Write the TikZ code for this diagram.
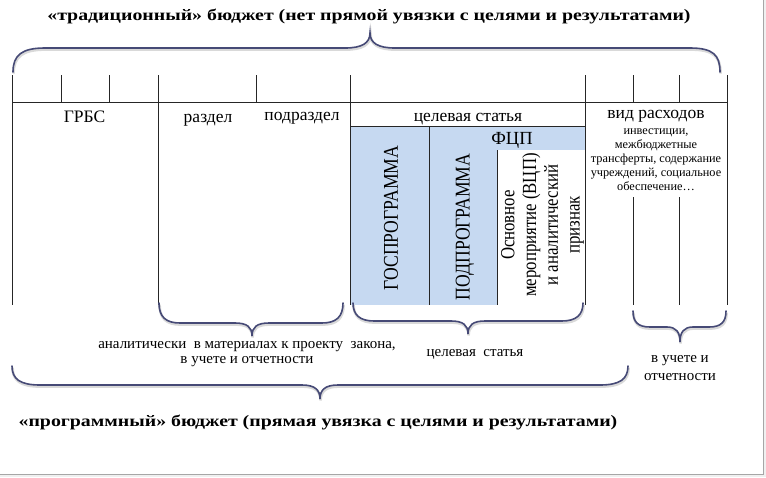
\documentclass[tikz,border=0pt]{standalone}
\usepackage{fontspec}
\setmainfont{Liberation Serif}
\newfontfamily\widefont[FakeStretch=1.24]{Liberation Serif}
\newfontfamily\narrowfont[FakeStretch=0.84]{Liberation Serif}
\usetikzlibrary{positioning}
\definecolor{braceblue}{RGB}{70,74,118}
\definecolor{cellblue}{RGB}{198,217,241}

\begin{document}
\begin{tikzpicture}[x=1pt, y=-1pt,
	brc/.style={draw=braceblue, line width=1.6pt, line cap=round,
	preaction={draw=gray!30, line width=2.6pt, transform canvas={xshift=0.6pt, yshift=-1.6pt}}},
	grid/.style={draw=black!85, line width=0.8pt},
	ttl/.style={font=\widefont\bfseries\fontsize{16}{18}\selectfont, inner sep=0pt, anchor=base},
	hdr/.style={font=\fontsize{17.5}{19}\selectfont, inner sep=0pt, anchor=base},
	sml/.style={font=\fontsize{12.3}{13.8}\selectfont, inner sep=0pt, align=center},
	lbl/.style={font=\fontsize{15}{15.5}\selectfont, inner sep=0pt, align=center},
	vrt/.style={font=\narrowfont\fontsize{21}{22}\selectfont, inner sep=0pt, rotate=90}
	]
	\useasboundingbox (0,0) rectangle (766,477);
	\fill[gray!12] (763,0) rectangle (766,477);
	\fill[gray!12] (0,474) rectangle (766,477);
	\draw[gray!70, line width=0.8pt] (763,0) -- (763,474) -- (0,474);

	% blue cells
	\fill[cellblue] (350,126) rectangle (585,150);
	\fill[cellblue] (350,150) rectangle (497,305);

	% table
	\draw[grid] (12,102) -- (727,102);
	\draw[grid] (350,126) -- (585,126);
	\draw[grid] (12,75) -- (12,305);
	\draw[grid] (61,75) -- (61,102);
	\draw[grid] (109,75) -- (109,102);
	\draw[grid] (158,75) -- (158,305);
	\draw[grid] (256,75) -- (256,102);
	\draw[grid] (350,75) -- (350,305);
	\draw[grid] (429,126) -- (429,305);
	\draw[grid] (497,150) -- (497,305);
	\draw[grid] (585,75) -- (585,305);
	\draw[grid] (633,75) -- (633,102);
	\draw[grid] (679,75) -- (679,102);
	\draw[grid] (633,197) -- (633,305);
	\draw[grid] (679,197) -- (679,305);
	\draw[grid] (727,75) -- (727,305);

	\node[hdr] (grbs) at (84.5,122) {ГРБС};
	\node[hdr] (razdel) at (208,122) {раздел};
	\node[hdr] (podrazdel) at (302,120) {подраздел};
	\node[hdr] (celst) at (468,121) {целевая статья};
	\node[hdr] (vidrash) at (656,118) {вид расходов};
	\node[hdr, font=\fontsize{18.5}{20}\selectfont] (fcp) at (512,144) {ФЦП};
	\node[sml] (vidlist) [below=7pt of vidrash]
	{инвестиции,\\межбюджетные\\трансферты, содержание\\учреждений, социальное\\обеспечение…};

	\node[vrt] (gosprog) at (391,218) {ГОСПРОГРАММА};
	\node[vrt] (podprog) at (465,227) {ПОДПРОГРАММА};
	\node[vrt, font=\narrowfont\fontsize{20}{21.7}\selectfont, align=center] (osnmer) at (542.5,225)
	{Основное\\мероприятие (ВЦП)\\и аналитический\\признак};

	% braces
	\draw[brc] (13,72) .. controls (13,55) and (22,48) .. (45,48) -- (345,48)
	.. controls (362,48) and (370,43) .. (370,33)
	.. controls (370,43) and (378,48) .. (395,48) -- (690,48)
	.. controls (713,48) and (720,55) .. (720,72);
	\draw[brc] (159,303) .. controls (159,317) and (166,323) .. (180,323) -- (235,323)
	.. controls (247,323) and (252,327) .. (252,336)
	.. controls (252,327) and (257,323) .. (269,323) -- (322,323)
	.. controls (336,323) and (343,317) .. (343,303);
	\draw[brc] (353,303) .. controls (353,315) and (360,321) .. (374,321) -- (451,321)
	.. controls (463,321) and (468,325) .. (468,334)
	.. controls (468,325) and (473,321) .. (485,321) -- (562,321)
	.. controls (576,321) and (583,315) .. (583,303);
	\draw[brc] (633,311) .. controls (633,322) and (638,327) .. (650,327) -- (667,327)
	.. controls (676,327) and (680,332) .. (680,342)
	.. controls (680,332) and (684,327) .. (693,327) -- (709,327)
	.. controls (721,327) and (726,322) .. (726,311);
	\draw[brc] (12,366) .. controls (12,379) and (20,385) .. (40,385) -- (302,385)
	.. controls (315,385) and (320,390) .. (320,399)
	.. controls (320,390) and (325,385) .. (338,385) -- (600,385)
	.. controls (620,385) and (628,379) .. (628,366);

	\node[lbl] (analit) at (247,354) {аналитически\ \ в материалах к проекту\ \ закона,\\в учете и отчетности};
	\node[lbl, anchor=base] (celstb) at (475,356) {целевая\ \ статья};
	\node[lbl, font=\fontsize{15}{18}\selectfont] (uchet) at (680,368) {в учете и\\отчетности};

	\node[ttl] (trad) at (369,20) {«традиционный» бюджет (нет прямой увязки с целями и результатами)};
	\node[ttl] (progr) at (318,426) {«программный» бюджет (прямая увязка с целями и результатами)};
\end{tikzpicture}
\end{document}
